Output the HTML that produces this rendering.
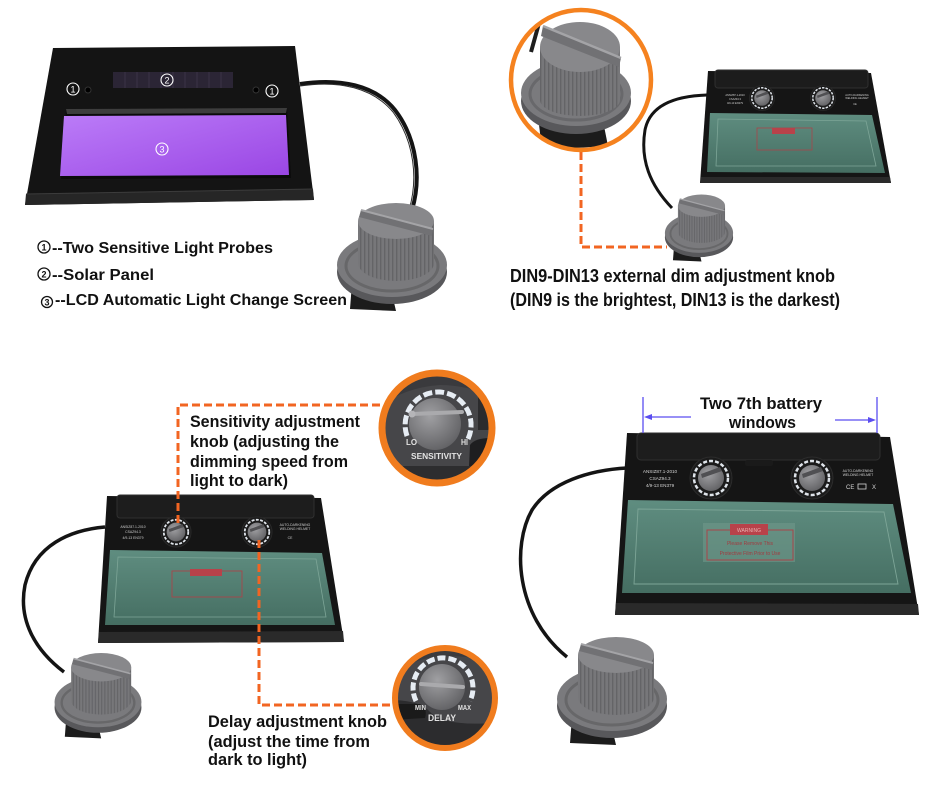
<!DOCTYPE html>
<html><head><meta charset="utf-8"><style>
html,body{margin:0;padding:0;background:#fff;}
svg{display:block;}
text{font-family:"Liberation Sans",sans-serif;}
</style></head><body>
<svg width="950" height="799" viewBox="0 0 950 799" xmlns="http://www.w3.org/2000/svg">
<defs>
 <pattern id="rid" patternUnits="userSpaceOnUse" width="4" height="20">
   <rect width="4" height="20" fill="#77777a"/>
   <rect width="1.4" height="20" fill="#646467"/>
 </pattern>
 <linearGradient id="purp" x1="0" y1="0" x2="1" y2="1">
   <stop offset="0" stop-color="#bb7cf8"/><stop offset="1" stop-color="#9a46e4"/>
 </linearGradient>
 <linearGradient id="grn" x1="0" y1="0" x2="0" y2="1">
   <stop offset="0" stop-color="#5f8d80"/><stop offset="1" stop-color="#456e62"/>
 </linearGradient>
 <radialGradient id="kg" cx="0.4" cy="0.35" r="0.75">
   <stop offset="0" stop-color="#a0a0a3"/><stop offset="1" stop-color="#5c5c5f"/>
 </radialGradient>
 <g id="knob">
   <path d="M-40,18 L-2,20 L4,46 L-42,44 Z" fill="#1c1c1c"/>
   <ellipse cx="0" cy="7" rx="55" ry="32" fill="#58585b"/>
   <ellipse cx="0" cy="0" rx="55" ry="32" fill="#7a7a7d"/>
   <ellipse cx="0" cy="1" rx="46" ry="25" fill="none" stroke="#676769" stroke-width="3"/>
   <path d="M-34,-44 L-34,-2 A38,18 0 0 0 42,-2 L42,-44 Z" fill="url(#rid)"/>
   <ellipse cx="4" cy="-44" rx="38" ry="18" fill="#88888b"/>
   <path d="M-31,-55 L41,-36 L40,-29 L-33,-48 Z" fill="#717174"/>
   <path d="M-31,-55 L41,-36" stroke="#a4a4a7" stroke-width="2"/>
 </g>
 <g id="dial">
   <circle r="21" fill="#1b1b1b" stroke="#2c2c2c" stroke-width="1"/>
   <circle r="17" fill="none" stroke="#dfe4ea" stroke-width="2.5" stroke-dasharray="4 2"/>
   <circle r="13" fill="url(#kg)"/>
   <path d="M-10,-4 L9,-11 L11,-7 L-9,0 Z" fill="#505053"/>
 </g>
 <clipPath id="cz"><circle cx="581" cy="80" r="69"/></clipPath>
 <clipPath id="cs"><circle cx="437" cy="428" r="55"/></clipPath>
 <clipPath id="cd"><circle cx="445" cy="698" r="50"/></clipPath>
</defs>

<rect width="950" height="799" fill="#fff"/>

<!-- ================= TOP LEFT ================= -->
<path d="M300,84 C340,78 375,85 395,110 C418,140 421,180 412,210" fill="none" stroke="#141414" stroke-width="4"/>
<path d="M300,86 C340,80 373,88 393,112 C415,142 418,180 409,210" fill="none" stroke="#2e2e2e" stroke-width="1"/>
<polygon points="53,48 295,46 314,200 25,205" fill="#141414"/>
<polygon points="26,194 313,189 314,200 25,205" fill="#262626"/>
<line x1="26" y1="194" x2="313" y2="189" stroke="#3c3c3c" stroke-width="1"/>
<rect x="113" y="72" width="120" height="16" fill="#2b2535"/>
<g stroke="#3b3447" stroke-width="1">
 <line x1="125" y1="72" x2="125" y2="88"/><line x1="137" y1="72" x2="137" y2="88"/>
 <line x1="149" y1="72" x2="149" y2="88"/><line x1="161" y1="72" x2="161" y2="88"/>
 <line x1="173" y1="72" x2="173" y2="88"/><line x1="185" y1="72" x2="185" y2="88"/>
 <line x1="197" y1="72" x2="197" y2="88"/><line x1="209" y1="72" x2="209" y2="88"/>
 <line x1="221" y1="72" x2="221" y2="88"/>
</g>
<polygon points="66,109 287,108 291,178 61,179" fill="#0b0b0b"/>
<polygon points="66,109 287,108 286,113 67,114" fill="#3d3d3d"/>
<polygon points="64,116 286,115 289,175 60,176" fill="url(#purp)"/>
<circle cx="88" cy="90" r="3" fill="#000" stroke="#333" stroke-width="1"/>
<circle cx="256" cy="90" r="3" fill="#000" stroke="#333" stroke-width="1"/>
<g fill="none" stroke="#fff" stroke-width="1.1">
 <circle cx="73" cy="89" r="6"/><circle cx="272" cy="91" r="6"/>
 <circle cx="167" cy="80" r="6"/><circle cx="162" cy="149" r="6"/>
</g>
<g fill="#fff" font-size="9" text-anchor="middle">
 <text x="73" y="92.5">1</text><text x="272" y="94.5">1</text>
 <text x="167" y="83.5">2</text><text x="162" y="152.5">3</text>
</g>
<use href="#knob" transform="translate(392,265)"/>

<g fill="none" stroke="#111" stroke-width="1.3">
 <circle cx="44" cy="247" r="6"/><circle cx="44" cy="274" r="6"/><circle cx="47" cy="302" r="5.5"/>
</g>
<g fill="#111" font-size="9" font-weight="bold" text-anchor="middle">
 <text x="44" y="250.5">1</text><text x="44" y="277.5">2</text><text x="47" y="305.3">3</text>
</g>
<g fill="#111" font-size="16" font-weight="bold">
 <text x="52" y="253" textLength="221" lengthAdjust="spacingAndGlyphs">--Two Sensitive Light Probes</text>
 <text x="52" y="280" textLength="102" lengthAdjust="spacingAndGlyphs">--Solar Panel</text>
 <text x="55" y="305" textLength="292" lengthAdjust="spacingAndGlyphs">--LCD Automatic Light Change Screen</text>
</g>

<!-- ================= TOP RIGHT ================= -->
<path d="M707,95 C675,96 650,105 645,130 C640,160 650,185 672,208" fill="none" stroke="#141414" stroke-width="3"/>
<polygon points="708,71 871,73 891,183 700,183" fill="#151515"/>
<polygon points="701,177 890,177 891,183 700,183" fill="#2a2a2a"/>
<rect x="715" y="70" width="153" height="18" rx="3" fill="#1c1c1c" stroke="#2f2f2f" stroke-width="1"/>
<polygon points="710,113 872,115 885,173 707,172" fill="url(#grn)"/>
<polygon points="718,119 866,121 876,166 716,166" fill="none" stroke="#7da597" stroke-width="0.8"/>
<rect x="757" y="128" width="55" height="22" fill="none" stroke="#a8454a" stroke-width="0.8"/>
<rect x="772" y="128" width="23" height="6" fill="#b8424a"/>
<use href="#dial" transform="translate(762,98) scale(0.6)"/>
<use href="#dial" transform="translate(823,98) scale(0.6)"/>
<g fill="#ccc" font-size="2.6" text-anchor="middle">
 <text x="735" y="96">ANSIZ87.1-2010</text><text x="735" y="100">CSAZ94.3</text><text x="735" y="104">4/9-13 EN379</text>
 <text x="857" y="96">AUTO-DARKENING</text><text x="857" y="99">WELDING HELMET</text>
 <text x="855" y="105">CE</text>
</g>
<use href="#knob" transform="translate(699,233) scale(0.62)"/>

<path d="M581,152 V247 H667" fill="none" stroke="#f26522" stroke-width="3" stroke-dasharray="8 4"/>
<circle cx="581" cy="80" r="70" fill="#fff"/>
<g clip-path="url(#cz)">
 <line x1="541" y1="16" x2="531" y2="52" stroke="#1e1e1e" stroke-width="4"/>
 <polygon points="538,116 602,116 608,146 542,150" fill="#1c1c1c"/>
 <ellipse cx="576" cy="101" rx="55" ry="33" fill="#58585b"/>
 <ellipse cx="576" cy="93" rx="55" ry="33" fill="#7a7a7d"/>
 <ellipse cx="576" cy="94" rx="46" ry="26" fill="none" stroke="#68686b" stroke-width="3"/>
 <path d="M540,47 L540,100 A40,16 0 0 0 620,100 L620,47 Z" fill="url(#rid)"/>
 <ellipse cx="580" cy="47" rx="40" ry="25" fill="#88888b"/>
 <path d="M543,26 L621,58 L619,67 L541,36 Z" fill="#717174"/>
 <path d="M543,26 L621,58" stroke="#a4a4a7" stroke-width="2.5"/>
</g>
<circle cx="581" cy="80" r="70" fill="none" stroke="#f5821f" stroke-width="4.5"/>

<g fill="#111" font-size="18" font-weight="bold">
 <text x="510" y="282" textLength="325" lengthAdjust="spacingAndGlyphs">DIN9-DIN13 external dim adjustment knob</text>
 <text x="510" y="306" textLength="330" lengthAdjust="spacingAndGlyphs">(DIN9 is the brightest, DIN13 is the darkest)</text>
</g>

<!-- ================= BOTTOM LEFT ================= -->
<path d="M105,527 C70,530 35,545 25,585 C18,620 35,650 64,672" fill="none" stroke="#141414" stroke-width="3.5"/>
<polygon points="107,496 321,498 344,642 98,643" fill="#151515"/>
<polygon points="99,632 343,631 344,642 98,643" fill="#2a2a2a"/>
<rect x="117" y="495" width="197" height="23" rx="3" fill="#1d1d1d" stroke="#303030" stroke-width="1"/>
<polygon points="110,550 322,553 335,625 105,625" fill="url(#grn)"/>
<polygon points="118,557 316,559 326,617 114,617" fill="none" stroke="#7da597" stroke-width="0.8"/>
<rect x="172" y="571" width="70" height="26" fill="none" stroke="#a8454a" stroke-width="0.9"/>
<rect x="190" y="569" width="32" height="7" fill="#b8424a"/>
<use href="#dial" transform="translate(176,532) scale(0.72)"/>
<use href="#dial" transform="translate(257,532) scale(0.72)"/>
<g fill="#ccc" font-size="3.4" text-anchor="middle">
 <text x="133" y="528">ANSIZ87.1-2010</text><text x="133" y="533">CSAZ94.3</text><text x="133" y="539">4/9-13 EN379</text>
 <text x="295" y="526">AUTO-DARKENING</text><text x="295" y="530">WELDING HELMET</text>
 <text x="290" y="539">CE</text>
</g>
<use href="#knob" transform="translate(98,702) scale(0.79)"/>

<path d="M380,405 H178 V523" fill="none" stroke="#f26522" stroke-width="3" stroke-dasharray="8 4"/>
<path d="M259,540 V705 H392" fill="none" stroke="#f26522" stroke-width="3" stroke-dasharray="8 4"/>

<!-- sensitivity zoom -->
<g clip-path="url(#cs)">
 <rect x="377" y="368" width="125" height="125" fill="#464649"/>
 <path d="M377,368 L500,368 L500,400 Q470,385 440,385 Q400,388 377,410 Z" fill="#3a3a3d"/>
 <rect x="478" y="385" width="25" height="45" fill="#2b2b2d"/>
 <path d="M470,445 Q475,438 490,438 L505,438 L505,490 L468,490 Z" fill="#1e1e20"/>
 <rect x="377" y="466" width="130" height="30" fill="#2d2d2f"/>
 <path d="M407,436 A33,33 0 1 1 468,439" fill="none" stroke="#e6ecf3" stroke-width="5" stroke-dasharray="9 3"/>
 <circle cx="435" cy="424" r="26" fill="url(#kg)"/>
 <line x1="412" y1="414" x2="462" y2="412" stroke="#aaaaad" stroke-width="4" stroke-linecap="round"/>
 <circle cx="412" cy="414" r="3.5" fill="#b5b5b8"/>
 <g fill="#e2e2e2" font-weight="bold">
  <text x="406" y="445" font-size="8" textLength="11" lengthAdjust="spacingAndGlyphs">LO</text>
  <text x="461" y="445" font-size="8" textLength="7" lengthAdjust="spacingAndGlyphs">HI</text>
  <text x="411" y="459" font-size="8.5" textLength="51" lengthAdjust="spacingAndGlyphs">SENSITIVITY</text>
 </g>
</g>
<circle cx="437" cy="428" r="55" fill="none" stroke="#f07c1e" stroke-width="7"/>

<!-- delay zoom -->
<g clip-path="url(#cd)">
 <rect x="390" y="643" width="115" height="115" fill="#464649"/>
 <path d="M390,643 L505,643 L505,665 Q470,655 440,656 Q410,660 390,675 Z" fill="#3b3b3e"/>
 <path d="M390,700 Q420,700 430,712 Q445,728 505,722 L505,760 L390,760 Z" fill="#2c2c2e"/>
 <path d="M390,704 L420,704 Q428,708 425,718 L390,720 Z" fill="#1a1a1a"/>
 <path d="M416,701 A30,30 0 1 1 470,701" fill="none" stroke="#e6ecf3" stroke-width="5" stroke-dasharray="8 3"/>
 <circle cx="442" cy="687" r="23" fill="url(#kg)"/>
 <line x1="421" y1="684" x2="463" y2="687" stroke="#aaaaad" stroke-width="4" stroke-linecap="round"/>
 <g fill="#e2e2e2" font-weight="bold">
  <text x="415" y="710" font-size="7.5" textLength="11" lengthAdjust="spacingAndGlyphs">MIN</text>
  <text x="458" y="710" font-size="7.5" textLength="13" lengthAdjust="spacingAndGlyphs">MAX</text>
  <text x="428" y="721" font-size="9.5" textLength="28" lengthAdjust="spacingAndGlyphs">DELAY</text>
 </g>
</g>
<circle cx="445" cy="698" r="50" fill="none" stroke="#f07c1e" stroke-width="6"/>

<g fill="#111" font-size="17" font-weight="bold">
 <text x="190" y="427" textLength="170" lengthAdjust="spacingAndGlyphs">Sensitivity adjustment</text>
 <text x="190" y="447" textLength="149" lengthAdjust="spacingAndGlyphs">knob (adjusting the</text>
 <text x="190" y="467" textLength="158" lengthAdjust="spacingAndGlyphs">dimming speed from</text>
 <text x="190" y="486" textLength="98" lengthAdjust="spacingAndGlyphs">light to dark)</text>
 <text x="208" y="727" textLength="179" lengthAdjust="spacingAndGlyphs">Delay adjustment knob</text>
 <text x="208" y="747" textLength="162" lengthAdjust="spacingAndGlyphs">(adjust the time from</text>
 <text x="208" y="765" textLength="99" lengthAdjust="spacingAndGlyphs">dark to light)</text>
</g>

<!-- ================= BOTTOM RIGHT ================= -->
<path d="M627,468 C590,470 550,482 532,510 C512,545 515,615 567,657" fill="none" stroke="#141414" stroke-width="3.5"/>
<polygon points="627,433 890,437 919,615 615,615" fill="#151515"/>
<polygon points="616,603 918,604 919,615 615,615" fill="#2a2a2a"/>
<rect x="637" y="433" width="243" height="27" rx="4" fill="#1d1d1d" stroke="#303030" stroke-width="1"/>
<rect x="745" y="460" width="28" height="6" rx="2" fill="#1a1a1a"/>
<polygon points="628,500 893,504 911,593 622,593" fill="url(#grn)"/>
<polygon points="638,509 884,512 898,584 634,584" fill="none" stroke="#7da597" stroke-width="0.9"/>
<rect x="703" y="523" width="92" height="39" fill="#6f978b" opacity="0.6"/>
<rect x="707" y="530" width="86" height="30" fill="none" stroke="#a8454a" stroke-width="1"/>
<rect x="730" y="524" width="38" height="11" fill="#b8424a"/>
<g fill="#a03c40" font-size="5" text-anchor="middle">
 <text x="749" y="532" fill="#e8b0b0">WARNING</text>
 <text x="750" y="545">Please Remove This</text>
 <text x="750" y="555">Protective Film Prior to Use</text>
</g>
<use href="#dial" transform="translate(711,478)"/>
<use href="#dial" transform="translate(812,478)"/>
<g fill="#d5d5d5" font-size="4.6" text-anchor="middle">
 <text x="660" y="473">ANSIZ87.1-2010</text><text x="660" y="480">CSAZ94.3</text><text x="660" y="487">4/9-13 EN379</text>
</g>
<g fill="#d5d5d5" font-size="3.4" text-anchor="middle">
 <text x="858" y="472">AUTO-DARKENING</text><text x="858" y="476">WELDING HELMET</text>
</g>
<text x="846" y="489" fill="#d5d5d5" font-size="6">CE</text>
<rect x="858" y="484" width="8" height="5" fill="none" stroke="#d5d5d5" stroke-width="0.8"/>
<text x="872" y="489" fill="#d5d5d5" font-size="6">X</text>
<use href="#knob" transform="translate(612,699)"/>

<g stroke="#5b4ef0" stroke-width="1.3" fill="none">
 <line x1="643" y1="397" x2="643" y2="433"/>
 <line x1="877" y1="397" x2="877" y2="433"/>
 <line x1="691" y1="417" x2="648" y2="417"/>
 <line x1="835" y1="420" x2="872" y2="420"/>
</g>
<polygon points="644,417 652,414 652,420" fill="#5b4ef0"/>
<polygon points="876,420 868,417 868,423" fill="#5b4ef0"/>
<g fill="#111" font-size="17" font-weight="bold">
 <text x="700" y="409" textLength="122" lengthAdjust="spacingAndGlyphs">Two 7th battery</text>
 <text x="729" y="428" textLength="67" lengthAdjust="spacingAndGlyphs">windows</text>
</g>
</svg>
</body></html>
